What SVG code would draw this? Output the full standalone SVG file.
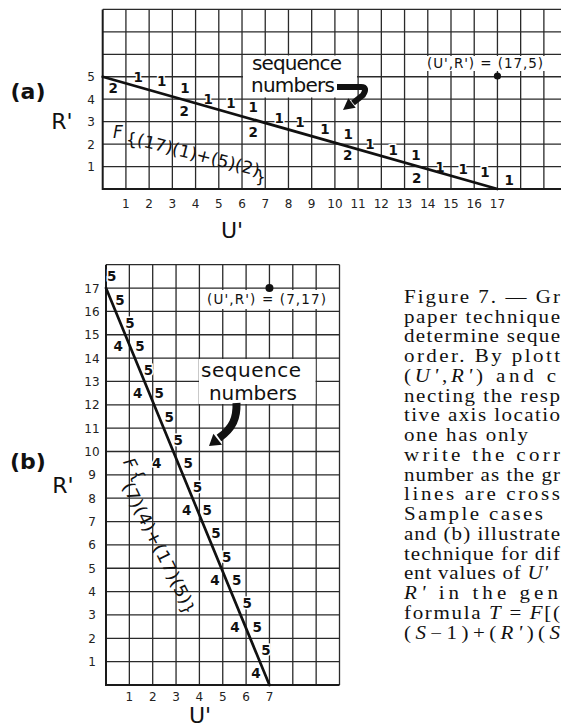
<svg xmlns="http://www.w3.org/2000/svg" width="561" height="727" viewBox="0 0 561 727">
<style>
.grid{stroke:#2a2a2a;stroke-width:1.3;fill:none}
.axis{stroke:#1a1a1a;stroke-width:2;fill:none}
.diag{stroke:#111;stroke-width:2.7;fill:none;stroke-linecap:round}
.seq{font-family:"DejaVu Sans",sans-serif;font-weight:bold;font-size:13.5px;text-anchor:middle;dominant-baseline:central;fill:#111;stroke:#fff;stroke-width:3;paint-order:stroke}
.tick{font-family:"DejaVu Sans",sans-serif;font-size:12px;text-anchor:middle;fill:#222}
.big{font-family:"DejaVu Sans",sans-serif;font-size:22px;fill:#111}
.part{font-family:"DejaVu Sans",sans-serif;font-size:22px;font-weight:bold;fill:#111}
.lbl{font-family:"DejaVu Sans",sans-serif;font-size:20px;fill:#111}
.pt{font-family:"DejaVu Sans",sans-serif;font-size:13.5px;fill:#111}
.hand{font-family:"DejaVu Sans",sans-serif;font-size:17px;fill:#111}
.cap{font-family:"Liberation Serif",serif;font-size:17.8px;fill:#111}
.box{fill:#fff;stroke:none}
</style>

<g id="panel-a">
  <g id="grid-a">
    <path class="grid" d="M125.92 9.4V189M149.14 9.4V189M172.36 9.4V189M195.58 9.4V189M218.8 9.4V189M242.02 9.4V189M265.24 9.4V189M288.46 9.4V189M311.68 9.4V189M334.9 9.4V189M358.12 9.4V189M381.34 9.4V189M404.56 9.4V189M427.78 9.4V189M451 9.4V189M474.22 9.4V189M497.44 9.4V189M520.66 9.4V189M543.88 9.4V189"/>
    <path class="grid" d="M102.7 9.4H561M102.7 31.85H561M102.7 54.3H561M102.7 76.75H561M102.7 99.2H561M102.7 121.65H561M102.7 144.1H561M102.7 166.55H561"/>
    <path class="axis" d="M102.7 9.4V189H561"/>
  </g>
  <g id="axis-labels-a">
    <text class="part" x="28" y="99" text-anchor="middle">(a)</text>
    <text class="big" x="62" y="129" text-anchor="middle">R'</text>
    <text class="big" x="232" y="238" text-anchor="middle">U'</text>
    <text class="tick" x="91" y="81.2">5</text>
    <text class="tick" x="91" y="103.7">4</text>
    <text class="tick" x="91" y="126.1">3</text>
    <text class="tick" x="91" y="148.6">2</text>
    <text class="tick" x="91" y="171">1</text>
    <text class="tick" x="125.92" y="208">1</text>
    <text class="tick" x="149.14" y="208">2</text>
    <text class="tick" x="172.36" y="208">3</text>
    <text class="tick" x="195.58" y="208">4</text>
    <text class="tick" x="218.8" y="208">5</text>
    <text class="tick" x="242.02" y="208">6</text>
    <text class="tick" x="265.24" y="208">7</text>
    <text class="tick" x="288.46" y="208">8</text>
    <text class="tick" x="311.68" y="208">9</text>
    <text class="tick" x="334.9" y="208">10</text>
    <text class="tick" x="358.12" y="208">11</text>
    <text class="tick" x="381.34" y="208">12</text>
    <text class="tick" x="404.56" y="208">13</text>
    <text class="tick" x="427.78" y="208">14</text>
    <text class="tick" x="451" y="208">15</text>
    <text class="tick" x="474.22" y="208">16</text>
    <text class="tick" x="497.44" y="208">17</text>
  </g>
  <g id="seq-a">
    <text class="seq" x="113.3" y="88">2</text>
    <text class="seq" x="138.3" y="76.7">1</text>
    <text class="seq" x="161.7" y="81">1</text>
    <text class="seq" x="185" y="88">1</text>
    <text class="seq" x="184.3" y="111">2</text>
    <text class="seq" x="208.3" y="99.2">1</text>
    <text class="seq" x="231" y="102.5">1</text>
    <text class="seq" x="253.3" y="107">1</text>
    <text class="seq" x="253.3" y="132">2</text>
    <text class="seq" x="279.3" y="117.5">1</text>
    <text class="seq" x="300" y="121.6">1</text>
    <text class="seq" x="325" y="129">1</text>
    <text class="seq" x="348.3" y="133.5">1</text>
    <text class="seq" x="347.7" y="155">2</text>
    <text class="seq" x="370" y="144">1</text>
    <text class="seq" x="393.3" y="149.5">1</text>
    <text class="seq" x="416" y="154.5">1</text>
    <text class="seq" x="416.7" y="178">2</text>
    <text class="seq" x="440" y="166.5">1</text>
    <text class="seq" x="463.3" y="169">1</text>
    <text class="seq" x="485" y="172">1</text>
    <text class="seq" x="509.3" y="179.5">1</text>
  </g>
  <g id="formula-a">
    <text class="hand" x="113" y="138" font-style="italic">F</text>
    <text class="hand" x="126" y="146" font-size="37">{</text>
    <text class="hand" x="136" y="145" transform="rotate(14.3 136 145)" textLength="126" lengthAdjust="spacingAndGlyphs">(17)(1)+(5)(2)</text>
    <text class="hand" x="255" y="183" font-size="32">}</text>
  </g>
  <g id="label-seq-a">
    <rect class="box" x="243" y="55.5" width="114" height="42"/>
    <text class="lbl" x="297" y="70" text-anchor="middle" textLength="90">sequence</text>
    <text class="lbl" x="293" y="92" text-anchor="middle" textLength="84">numbers</text>
  </g>
  <g id="label-point-a">
    <rect class="box" x="424" y="56" width="122" height="15"/>
    <text class="pt" x="485" y="68" text-anchor="middle" textLength="116">(U',R') = (17,5)</text>
    <circle cx="497.44" cy="76" r="3.6" fill="#111"/>
  </g>
</g>

<g id="panel-b">
  <g id="grid-b">
    <path class="grid" d="M129.35 264.7V685M152.7 264.7V685M176.05 264.7V685M199.4 264.7V685M222.75 264.7V685M246.1 264.7V685M269.45 264.7V685M292.8 264.7V685M316.15 264.7V685M339.5 264.7V685"/>
    <path class="grid" d="M106 264.7H339.5M106 288.05H339.5M106 311.4H339.5M106 334.75H339.5M106 358.1H339.5M106 381.45H339.5M106 404.8H339.5M106 428.15H339.5M106 451.5H339.5M106 474.85H339.5M106 498.2H339.5M106 521.55H339.5M106 544.9H339.5M106 568.25H339.5M106 591.6H339.5M106 614.95H339.5M106 638.3H339.5M106 661.65H339.5"/>
    <path class="axis" d="M106 264.7V685H339.5"/>
  </g>
  <g id="axis-labels-b">
    <text class="part" x="28" y="469" text-anchor="middle">(b)</text>
    <text class="big" x="63" y="493" text-anchor="middle">R'</text>
    <text class="big" x="200" y="723" text-anchor="middle" font-size="20">U'</text>
    <text class="tick" x="92" y="292.5">17</text>
    <text class="tick" x="92" y="315.9">16</text>
    <text class="tick" x="92" y="339.2">15</text>
    <text class="tick" x="92" y="362.6">14</text>
    <text class="tick" x="92" y="385.9">13</text>
    <text class="tick" x="92" y="409.3">12</text>
    <text class="tick" x="92" y="432.6">11</text>
    <text class="tick" x="92" y="456">10</text>
    <text class="tick" x="92" y="479.3">9</text>
    <text class="tick" x="92" y="502.7">8</text>
    <text class="tick" x="92" y="526">7</text>
    <text class="tick" x="92" y="549.4">6</text>
    <text class="tick" x="92" y="572.7">5</text>
    <text class="tick" x="92" y="596.1">4</text>
    <text class="tick" x="92" y="619.4">3</text>
    <text class="tick" x="92" y="642.8">2</text>
    <text class="tick" x="92" y="666.1">1</text>
    <text class="tick" x="129.35" y="701">1</text>
    <text class="tick" x="152.7" y="701">2</text>
    <text class="tick" x="176.05" y="701">3</text>
    <text class="tick" x="199.4" y="701">4</text>
    <text class="tick" x="222.75" y="701">5</text>
    <text class="tick" x="246.1" y="701">6</text>
    <text class="tick" x="269.45" y="701">7</text>
  </g>
  <g id="seq-b">
    <text class="seq" x="111.7" y="276.4">5</text>
    <text class="seq" x="120" y="299.7">5</text>
    <text class="seq" x="130" y="323">5</text>
    <text class="seq" x="118.3" y="346.4">4</text>
    <text class="seq" x="140" y="346.4">5</text>
    <text class="seq" x="148.5" y="369.8">5</text>
    <text class="seq" x="137.7" y="393.1">4</text>
    <text class="seq" x="159.3" y="393.1">5</text>
    <text class="seq" x="169.3" y="416.5">5</text>
    <text class="seq" x="178.3" y="439.8">5</text>
    <text class="seq" x="156.7" y="463.2">4</text>
    <text class="seq" x="188.3" y="463.2">5</text>
    <text class="seq" x="197.5" y="486.5">5</text>
    <text class="seq" x="186.7" y="509.9">4</text>
    <text class="seq" x="207.3" y="509.9">5</text>
    <text class="seq" x="216" y="533.2">5</text>
    <text class="seq" x="226.7" y="556.6">5</text>
    <text class="seq" x="215" y="579.9">4</text>
    <text class="seq" x="236.7" y="579.9">5</text>
    <text class="seq" x="247.3" y="603.3">5</text>
    <text class="seq" x="235" y="626.6">4</text>
    <text class="seq" x="257.3" y="626.6">5</text>
    <text class="seq" x="266" y="650">5</text>
    <text class="seq" x="256" y="673.3">4</text>
  </g>
  <g id="formula-b">
    <text class="hand" x="125" y="468" font-style="italic" transform="rotate(63 129 463)">F</text>
    <text class="hand" x="136" y="484" font-size="30" transform="rotate(63 142 474)">{</text>
    <text class="hand" x="121.7" y="485.7" transform="rotate(63.4 121.7 485.7)" textLength="134" lengthAdjust="spacingAndGlyphs">(7)(4)+(17)(5)</text>
    <text class="hand" x="185" y="618" font-size="30" transform="rotate(63 192 608)">}</text>
  </g>
  <g id="label-point-b">
    <rect class="box" x="202" y="290" width="131" height="19"/>
    <text class="pt" x="266.5" y="304" text-anchor="middle" textLength="119">(U',R') = (7,17)</text>
    <circle cx="269.45" cy="288.05" r="4" fill="#111"/>
  </g>
  <g id="label-seq-b">
    <rect class="box" x="199" y="359" width="116.5" height="45"/>
    <text class="lbl" x="251" y="377" text-anchor="middle" textLength="100">sequence</text>
    <text class="lbl" x="253" y="400" text-anchor="middle" textLength="88">numbers</text>
  </g>
</g>

<g id="connectors">
  <line class="diag" x1="102.7" y1="76.75" x2="497.44" y2="189"/>
  <line class="diag" x1="106" y1="288.05" x2="269.45" y2="685"/>
  <path d="M337 87H361Q368 87 363 95L353 103" stroke="#111" stroke-width="6" fill="none"/>
  <polygon points="343,110 348.3,98.3 355.7,107.7" fill="#111"/>
  <path d="M236.5 403C237 418 233 428 219 438" stroke="#111" stroke-width="8" fill="none"/>
  <polygon points="209,446 213.4,433.8 222,444.8" fill="#111"/>
</g>

<g id="caption" class="cap" transform="translate(404 0) scale(1.18 1) translate(-404 0)">
  <text x="404" y="303" textLength="132.2" lengthAdjust="spacing">Figure 7. — Gr</text>
  <text x="404" y="322.75" textLength="132.2" lengthAdjust="spacing">paper technique</text>
  <text x="404" y="342.5" textLength="132.2" lengthAdjust="spacing">determine seque</text>
  <text x="404" y="362.25" textLength="132.2" lengthAdjust="spacing">order. By plott</text>
  <text x="404" y="382" textLength="128.8" lengthAdjust="spacing">(<tspan font-style="italic">U'</tspan>,<tspan font-style="italic">R'</tspan>) and c</text>
  <text x="404" y="401.75" textLength="132.2" lengthAdjust="spacing">necting the resp</text>
  <text x="404" y="421.5" textLength="132.2" lengthAdjust="spacing">tive axis locatio</text>
  <text x="404" y="441.25" textLength="105.1" lengthAdjust="spacing">one has only</text>
  <text x="404" y="461" textLength="132.2" lengthAdjust="spacing">write the corr</text>
  <text x="404" y="480.75" textLength="132.2" lengthAdjust="spacing">number as the gr</text>
  <text x="404" y="500.5" textLength="132.2" lengthAdjust="spacing">lines are cross</text>
  <text x="404" y="520.25" textLength="117.8" lengthAdjust="spacing">Sample cases</text>
  <text x="404" y="540" textLength="132.2" lengthAdjust="spacing">and (b) illustrate</text>
  <text x="404" y="559.75" textLength="132.2" lengthAdjust="spacing">technique for dif</text>
  <text x="404" y="579.5" textLength="122" lengthAdjust="spacing">ent values of <tspan font-style="italic">U'</tspan></text>
  <text x="404" y="599.25" textLength="130.5" lengthAdjust="spacing"><tspan font-style="italic">R'</tspan> in the gen</text>
  <text x="404" y="619" textLength="132.2" lengthAdjust="spacing">formula <tspan font-style="italic">T</tspan> = <tspan font-style="italic">F</tspan>[(</text>
  <text x="404" y="638.75" textLength="132.2" lengthAdjust="spacing">(<tspan font-style="italic">S</tspan>−1)+(<tspan font-style="italic">R'</tspan>)(<tspan font-style="italic">S</tspan></text>
</g>
</svg>
